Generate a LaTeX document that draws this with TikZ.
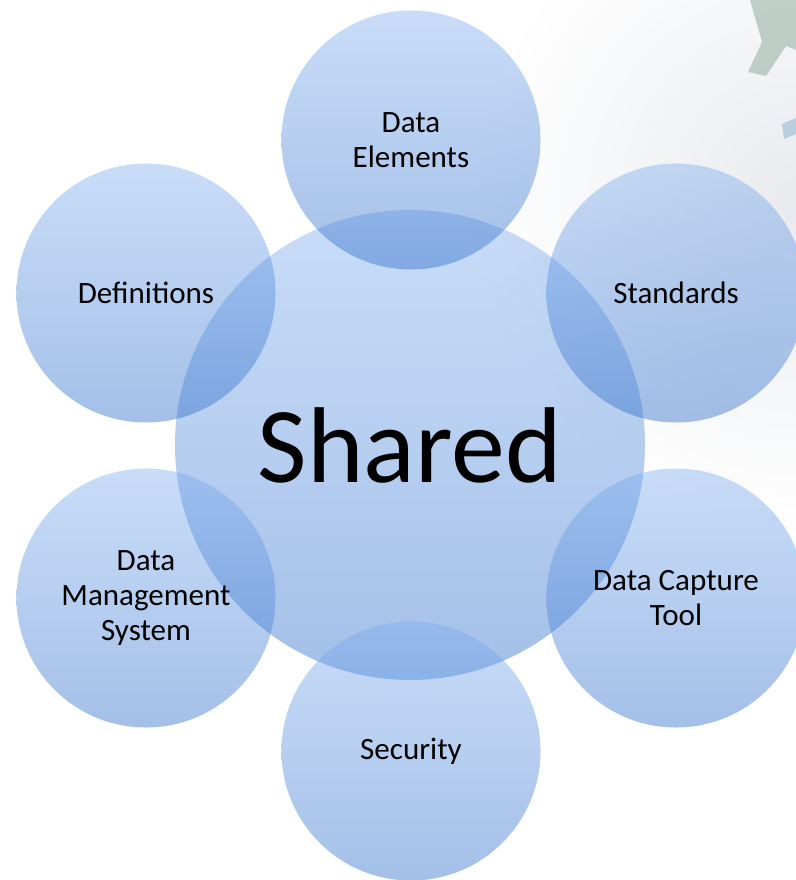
\documentclass[tikz,border=0pt]{standalone}
\usepackage{fontspec}
\setmainfont{Carlito}

\definecolor{bubtop}{RGB}{126,174,240}
\definecolor{bubbot}{RGB}{40,105,200}
\definecolor{haze}{RGB}{232,234,238}
\definecolor{leaf}{RGB}{168,190,178}
\definecolor{strip}{RGB}{150,184,210}

\tikzset{
  bubble/.style={circle, inner sep=0pt, minimum size=7.77cm, align=center,
    top color=bubtop, bottom color=bubbot, fill opacity=0.42, text opacity=1,
    font=\fontsize{26.5}{29.5}\selectfont},
  hub/.style={bubble, minimum size=14.1cm, font=\fontsize{92}{92}\selectfont}
}

\begin{document}
\begin{tikzpicture}[x=0.03cm, y=-0.03cm]

	% page
	\fill[white] (0,0) rectangle (796,880);
	\useasboundingbox (0,0) rectangle (796,880);

	% faint backdrop, top right
	\begin{scope}
		\clip (0,0) rectangle (796,880);
		\shade[inner color=haze, outer color=white] (800,200) circle (330);
		\fill[leaf, opacity=0.7] (750,0) -- (796,0) -- (796,50) -- (786,46)
			-- (766,76) -- (748,72) -- (762,42) -- cycle;
		\fill[strip, opacity=0.6] (782,124) -- (796,118) -- (796,134) -- (784,139) -- cycle;
	\end{scope}

	% centre
	\node[hub] (shared) at (410,445) {Shared};

	% ring
	\node[bubble] (elements) at (411,140) {Data\\Elements};
	\node[bubble] (standards) at (676,293) {Standards};
	\node[bubble] (capture) at (676,598) {Data Capture\\Tool};
	\node[bubble] (security) at (411,751) {Security};
	\node[bubble] (dms) at (146,598) {Data\\Management\\System};
	\node[bubble] (definitions) at (146,293) {Definitions};

\end{tikzpicture}
\end{document}
